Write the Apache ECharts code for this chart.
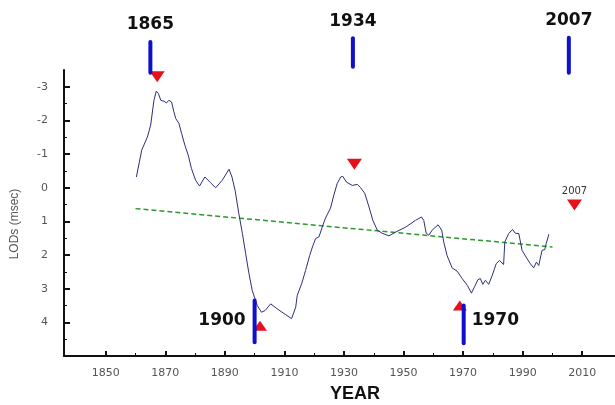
<!DOCTYPE html>
<html>
<head>
<meta charset="utf-8">
<script src="https://cdn.jsdelivr.net/npm/echarts@6/dist/echarts.min.js"></script>
<style>
  html, body { margin: 0; padding: 0; background: #fff; }
  #chart { width: 615px; height: 405px; }
</style>
</head>
<body>
<div id="chart"></div>
<script>
// LOD curve
const years = [
    1860.3, 1862.1, 1864.0, 1865.1, 1866.2, 1867.0, 1867.7, 1868.5, 1869.6, 1870.4,
    1871.2, 1872.1, 1872.9, 1873.5, 1874.6, 1875.5, 1876.6, 1877.7, 1878.8, 1880.2,
    1881.5, 1883.3, 1885.2, 1886.9, 1889.1, 1891.4, 1892.4, 1893.5, 1894.7, 1895.9,
    1897.0, 1898.1, 1899.2, 1900.9, 1902.3, 1903.5, 1905.4, 1907.6, 1910.4, 1912.4,
    1913.8, 1914.3, 1915.8, 1917.1, 1918.5, 1919.6, 1920.5, 1921.6, 1922.7, 1923.8,
    1925.5, 1926.6, 1927.7, 1928.9, 1929.6, 1930.8, 1932.8, 1934.5, 1935.6, 1937.0,
    1938.4, 1939.7, 1941.2, 1942.8, 1945.1, 1947.3, 1950.7, 1954.0, 1956.0, 1956.8,
    1957.6, 1958.5, 1959.6, 1961.6, 1962.8, 1963.5, 1964.6, 1966.3, 1968.0, 1969.7,
    1971.4, 1972.8, 1973.9, 1975.0, 1975.8, 1976.6, 1977.5, 1978.6, 1979.8, 1981.1,
    1982.2, 1983.6, 1984.0, 1985.3, 1986.6, 1987.5, 1988.7, 1989.8, 1991.5, 1992.6,
    1993.7, 1994.6, 1995.4, 1996.5, 1997.4, 1997.9, 1998.8
];
const lods = [
    -0.32, -1.12, -1.51, -1.86, -2.60, -2.87, -2.80, -2.60, -2.57, -2.52,
    -2.60, -2.55, -2.26, -2.06, -1.91, -1.61, -1.26, -0.97, -0.57, -0.22,
    -0.05, -0.32, -0.15, 0.00, -0.22, -0.55, -0.32, 0.10, 0.77, 1.36,
    1.96, 2.55, 3.05, 3.50, 3.70, 3.65, 3.45, 3.60, 3.77, 3.89,
    3.55, 3.20, 2.85, 2.46, 2.01, 1.71, 1.51, 1.46, 1.17, 0.90,
    0.60, 0.22, -0.12, -0.32, -0.34, -0.17, -0.07, -0.10, 0.00, 0.17,
    0.57, 0.97, 1.26, 1.35, 1.43, 1.32, 1.17, 0.97, 0.87, 0.97,
    1.35, 1.41, 1.26, 1.10, 1.26, 1.61, 2.01, 2.38, 2.48, 2.70,
    2.90, 3.13, 2.93, 2.73, 2.70, 2.87, 2.75, 2.87, 2.60, 2.26,
    2.16, 2.28, 1.61, 1.36, 1.24, 1.35, 1.36, 1.86, 2.11, 2.26,
    2.38, 2.21, 2.31, 1.86, 1.84, 1.66, 1.38
];

// dashed trend
const trendYears = [1860, 2000];
const trendLods = [0.62, 1.76];

// blue event bars
const barYears = [1865, 1933, 2005.5, 1900, 1970.2];
const barFrom = [-4.33, -4.44, -4.46, 3.35, 3.50];
const barTo = [-3.42, -3.60, -3.42, 4.59, 4.62];
const barLabels = ['1865', '1934', '2007', '1900', '1970'];
const barSide = ['top', 'top', 'top', 'left', 'right'];

// red triangles
const downYears = [1867.3, 1933.5, 2007.4];
const downLods = [-3.30, -0.70, 0.51];
const downNotes = ['', '', '2007'];
const upYears = [1901.8, 1968.9];
const upLods = [4.10, 3.50];

// axis ticks
const xLabelYears = [1850, 1870, 1890, 1910, 1930, 1950, 1970, 1990, 2010];
const xMinorYears = [1860, 1880, 1900, 1920, 1940, 1960, 1980, 2000];
const yLabelValues = [-3, -2, -1, 0, 1, 2, 3, 4];
const yMinorValues = [-2.5, -1.5, -0.5, 0.5, 1.5, 2.5, 3.5, 4.5];

const chart = echarts.init(document.getElementById('chart'));

const axisColor = '#111';
const labelStyle = { color: '#555', fontSize: 11, fontFamily: 'DejaVu Sans', formatter: v => String(v) };

const option = {
    animation: false,
    backgroundColor: '#fff',
    grid: { left: 64, right: 0, top: 70, bottom: 49 },
    xAxis: [
        {
            type: 'value', min: 1836, max: 2021, position: 'bottom',
            axisLine: { onZero: false, lineStyle: { color: axisColor, width: 2 } },
            axisTick: { inside: true, length: 5, customValues: xLabelYears, lineStyle: { color: axisColor, width: 2 } },
            axisLabel: Object.assign({ customValues: xLabelYears, margin: 12 }, labelStyle),
            splitLine: { show: false }
        },
        {
            type: 'value', min: 1836, max: 2021, position: 'bottom',
            axisLine: { show: false, onZero: false },
            axisTick: { inside: true, length: 3, customValues: xMinorYears, lineStyle: { color: axisColor, width: 1 } },
            axisLabel: { show: false },
            splitLine: { show: false }
        }
    ],
    yAxis: [
        {
            type: 'value', inverse: true, min: -3.5, max: 5,
            axisLine: { show: true, onZero: false, lineStyle: { color: axisColor, width: 2 } },
            axisTick: { show: true, inside: true, length: 6, customValues: yLabelValues, lineStyle: { color: axisColor, width: 2 } },
            axisLabel: Object.assign({ customValues: yLabelValues, margin: 16 }, labelStyle),
            splitLine: { show: false }
        },
        {
            type: 'value', inverse: true, min: -3.5, max: 5, position: 'left',
            axisLine: { show: false, onZero: false },
            axisTick: { show: true, inside: true, length: 3, customValues: yMinorValues, lineStyle: { color: axisColor, width: 1 } },
            axisLabel: { show: false },
            splitLine: { show: false }
        }
    ],
    graphic: [
        {
            type: 'text', x: 15, y: 224, rotation: Math.PI / 2,
            style: { text: 'LODs (msec)', align: 'center', verticalAlign: 'middle', fill: '#555', font: '12px "Liberation Sans"' }
        },
        {
            type: 'text', x: 355, y: 394,
            style: { text: 'YEAR', align: 'center', verticalAlign: 'middle', fill: '#111', font: 'bold 18px "Liberation Sans"' }
        }
    ],
    series: [
        {
            type: 'line',
            data: years.map((y, i) => [y, lods[i]]),
            showSymbol: false,
            lineStyle: { color: '#2e2e7c', width: 1 },
            z: 3
        },
        {
            type: 'line',
            data: trendYears.map((y, i) => [y, trendLods[i]]),
            showSymbol: false,
            lineStyle: { color: '#2a9a2a', width: 1.5, type: [5, 3] },
            z: 2
        },
        {
            type: 'scatter',
            data: downYears.map((y, i) => ({
                value: [y, downLods[i]],
                label: {
                    show: downNotes[i] !== '', formatter: downNotes[i], position: 'top', distance: 3,
                    color: '#333', fontSize: 10, fontFamily: 'DejaVu Sans'
                }
            })),
            symbol: 'triangle',
            symbolRotate: 180,
            symbolSize: [15, 11],
            itemStyle: { color: '#e8111b', opacity: 1 },
            clip: false,
            z: 4
        },
        {
            type: 'scatter',
            data: upYears.map((y, i) => [y, upLods[i]]),
            symbol: 'triangle',
            symbolSize: [14, 10],
            itemStyle: { color: '#e8111b', opacity: 1 },
            clip: false,
            z: 4
        },
        {
            type: 'custom',
            data: barYears.map((y, i) => [y, barFrom[i], barTo[i]]),
            encode: { x: 0, y: [1, 2] },
            clip: false,
            z: 5,
            renderItem(params, api) {
                const i = params.dataIndex;
                const p1 = api.coord([api.value(0), api.value(1)]);
                const p2 = api.coord([api.value(0), api.value(2)]);
                const top = Math.min(p1[1], p2[1]);
                const mid = (p1[1] + p2[1]) / 2;
                let tx = p1[0], ty = top - 17, align = 'center';
                if (barSide[i] === 'left') { tx = p1[0] - 9; ty = mid - 1; align = 'right'; }
                if (barSide[i] === 'right') { tx = p1[0] + 8; ty = mid - 4; align = 'left'; }
                return {
                    type: 'group',
                    children: [
                        {
                            type: 'line',
                            shape: { x1: p1[0], y1: p1[1], x2: p2[0], y2: p2[1] },
                            style: { stroke: '#0f0fcc', lineWidth: 4, lineCap: 'round' }
                        },
                        {
                            type: 'text', x: tx, y: ty,
                            style: {
                                text: barLabels[i], align: align, verticalAlign: 'middle',
                                fill: '#111', font: 'bold 17px "DejaVu Sans"'
                            }
                        }
                    ]
                };
            }
        }
    ]
};

chart.setOption(option);
</script>
</body>
</html>
